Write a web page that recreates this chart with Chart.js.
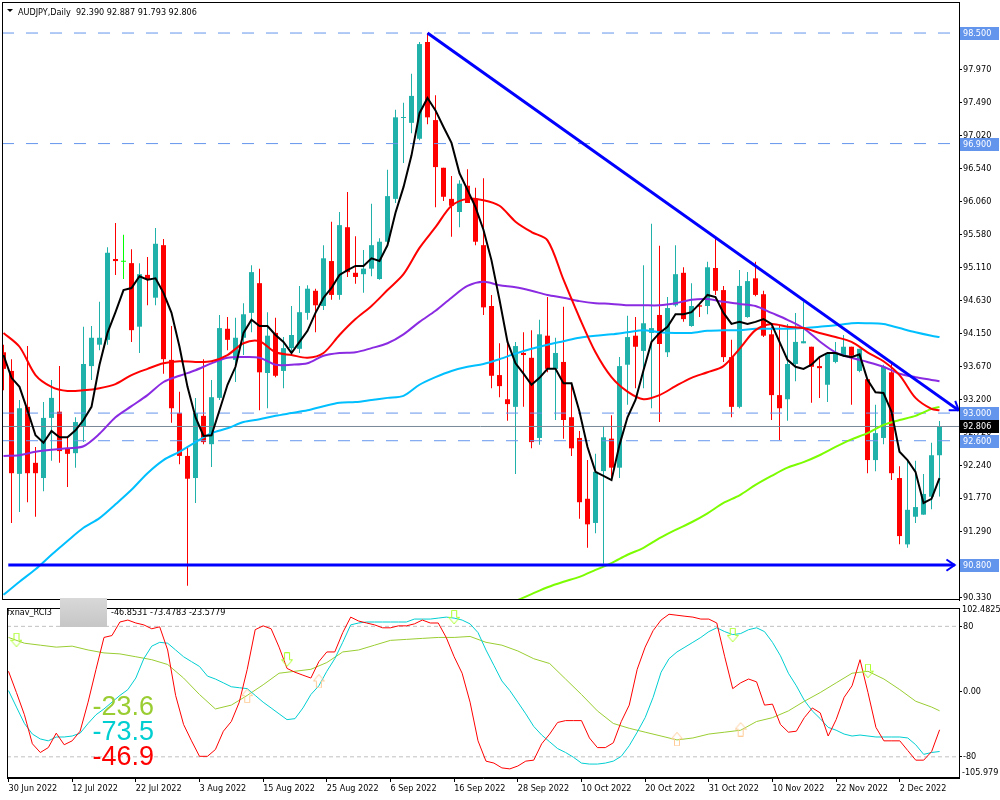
<!DOCTYPE html>
<html>
<head>
<meta charset="utf-8">
<script src="https://cdn.jsdelivr.net/npm/chart.js@4.4.0/dist/chart.umd.min.js"></script>
<style>
  body { margin: 0; background: #fff; width: 1000px; height: 800px; overflow: hidden; position: relative; }
  #main { position: absolute; left: 0; top: 0; width: 1000px; height: 601px; }
  #sub { position: absolute; left: 0; top: 601px; width: 1000px; height: 199px; }
  #mask { position: absolute; left: 60px; top: 598px; width: 47px; height: 29px; background: linear-gradient(#d8d8d8, #c6c6c6); }
</style>
</head>
<body>
<div id="main"><canvas id="priceChart"></canvas></div>
<div id="sub"><canvas id="rciChart"></canvas></div>
<div id="mask"></div>
<script>
// AUDJPY daily bars, 30 Jun - 9 Dec 2022
var dates = [
  '30 Jun','1 Jul','4 Jul','5 Jul','6 Jul','7 Jul','8 Jul','11 Jul','12 Jul','13 Jul',
  '14 Jul','15 Jul','18 Jul','19 Jul','20 Jul','21 Jul','22 Jul','25 Jul','26 Jul','27 Jul',
  '28 Jul','29 Jul','1 Aug','2 Aug','3 Aug','4 Aug','5 Aug','8 Aug','9 Aug','10 Aug',
  '11 Aug','12 Aug','15 Aug','16 Aug','17 Aug','18 Aug','19 Aug','22 Aug','23 Aug','24 Aug',
  '25 Aug','26 Aug','29 Aug','30 Aug','31 Aug','1 Sep','2 Sep','5 Sep','6 Sep','7 Sep',
  '8 Sep','9 Sep','12 Sep','13 Sep','14 Sep','15 Sep','16 Sep','19 Sep','20 Sep','21 Sep',
  '22 Sep','23 Sep','26 Sep','27 Sep','28 Sep','29 Sep','30 Sep','3 Oct','4 Oct','5 Oct',
  '6 Oct','7 Oct','10 Oct','11 Oct','12 Oct','13 Oct','14 Oct','17 Oct','18 Oct','19 Oct',
  '20 Oct','21 Oct','23 Oct','24 Oct','25 Oct','26 Oct','27 Oct','28 Oct','31 Oct','1 Nov',
  '2 Nov','3 Nov','4 Nov','7 Nov','8 Nov','9 Nov','10 Nov','11 Nov','14 Nov','15 Nov',
  '16 Nov','17 Nov','18 Nov','21 Nov','22 Nov','23 Nov','24 Nov','25 Nov','28 Nov','29 Nov',
  '30 Nov','1 Dec','2 Dec','5 Dec','6 Dec','7 Dec','8 Dec','9 Dec'
];
var xTickBars = [0, 8, 16, 24, 32, 40, 48, 56, 64, 72, 80, 88, 96, 104, 112];

var opens = [
  93.88, 93.61, 92.12, 93.09, 92.28, 92.06, 92.93, 93.02, 92.49, 92.42,
  92.81, 93.68, 93.99, 94.06, 95.23, 95.19, 95.17, 94.25, 95.00, 94.67,
  95.43, 93.77, 93.00, 92.38, 92.06, 92.96, 92.55, 93.22, 94.22, 93.77,
  94.09, 94.45, 94.88, 93.58, 94.16, 93.61, 93.94, 93.93, 94.45, 94.77,
  94.55, 95.20, 94.71, 95.69, 95.03, 95.01, 95.09, 94.94, 95.48, 96.10,
  97.27, 97.20, 96.97, 98.37, 97.24, 96.55, 96.10, 95.91, 96.29, 96.10,
  95.43, 94.55, 93.55, 93.20, 93.09, 93.87, 93.80, 92.64, 94.12, 93.64,
  93.74, 92.94, 92.64, 91.76, 91.41, 92.16, 92.63, 92.21, 93.70, 94.12,
  93.90, 94.16, 94.42, 93.88, 94.56, 95.03, 94.26, 94.56, 94.55, 95.10,
  94.78, 93.81, 93.09, 94.39, 94.95, 94.72, 94.14, 93.26, 93.20, 93.71,
  94.01, 93.96, 93.68, 93.41, 93.74, 93.83, 93.96, 93.61, 93.49, 92.32,
  92.64, 93.59, 92.06, 91.10, 91.50, 91.53, 91.79, 92.390
];
var highs = [
  93.99, 93.78, 93.19, 93.97, 92.51, 93.16, 93.48, 93.68, 92.65, 92.94,
  94.25, 94.26, 94.61, 95.40, 95.75, 95.58, 95.37, 95.17, 95.26, 95.68,
  95.52, 94.26, 93.31, 92.51, 93.22, 93.78, 93.48, 94.42, 94.39, 94.38,
  94.59, 95.14, 95.09, 94.46, 94.38, 94.10, 94.55, 94.84, 94.85, 94.80,
  95.43, 95.77, 95.91, 96.20, 95.56, 95.36, 96.03, 95.53, 96.52, 97.39,
  97.49, 97.91, 98.37, 98.50, 97.60, 96.55, 96.43, 96.37, 96.53, 96.26,
  96.40, 94.71, 94.01, 94.01, 94.03, 94.17, 94.20, 94.35, 94.68, 94.09,
  94.54, 93.44, 92.74, 92.32, 92.41, 92.80, 92.97, 93.81, 94.41, 94.39,
  95.14, 95.74, 95.42, 94.68, 95.43, 95.11, 94.88, 94.58, 95.19, 95.52,
  94.84, 94.06, 95.07, 95.04, 95.19, 94.77, 94.25, 94.27, 94.29, 94.45,
  94.61, 93.96, 93.81, 93.87, 94.03, 94.13, 93.96, 93.93, 93.49, 93.12,
  93.70, 93.72, 92.23, 92.32, 92.31, 92.12, 92.57, 92.887
];
var lows = [
  93.33, 91.41, 91.57, 91.71, 91.50, 91.87, 92.31, 92.28, 91.93, 92.21,
  92.58, 93.48, 93.91, 93.99, 95.00, 94.94, 94.03, 93.87, 94.56, 94.56,
  93.57, 92.86, 92.26, 90.50, 91.70, 92.55, 92.22, 93.19, 93.91, 93.45,
  93.84, 94.17, 93.04, 93.07, 93.52, 93.36, 93.87, 93.87, 94.35, 94.17,
  94.49, 94.64, 94.64, 94.97, 94.87, 94.74, 94.98, 94.93, 95.40, 96.04,
  96.62, 97.05, 96.95, 97.18, 95.98, 96.07, 95.55, 95.69, 96.04, 95.43,
  94.42, 93.36, 93.23, 92.89, 92.12, 93.09, 92.49, 92.54, 93.59, 92.90,
  92.63, 92.38, 91.47, 91.05, 91.26, 90.82, 92.05, 92.06, 93.12, 93.36,
  93.36, 93.07, 92.87, 93.81, 94.54, 94.32, 94.25, 94.39, 94.43, 94.71,
  93.74, 92.94, 93.07, 94.38, 94.69, 94.10, 92.90, 92.61, 92.89, 93.46,
  94.01, 93.15, 93.22, 93.16, 93.72, 93.81, 93.12, 93.59, 92.13, 92.16,
  92.55, 92.03, 91.10, 91.05, 91.41, 91.53, 91.61, 91.793
];
var closes = [
  93.64, 92.13, 93.07, 92.13, 92.13, 92.93, 93.22, 92.45, 92.41, 92.87,
  93.71, 94.09, 94.09, 95.32, 95.20, 95.19, 94.20, 95.01, 94.94, 95.45,
  93.78, 93.07, 92.38, 92.05, 93.00, 92.58, 93.23, 94.23, 94.06, 94.09,
  94.43, 95.04, 93.59, 94.12, 93.54, 93.94, 94.13, 94.46, 94.80, 94.56,
  95.24, 94.71, 95.72, 95.04, 94.97, 95.09, 95.43, 95.48, 96.14, 97.28,
  97.28, 97.59, 98.34, 97.28, 96.56, 96.13, 96.00, 96.32, 96.04, 95.48,
  94.53, 93.54, 93.39, 93.13, 93.97, 93.84, 92.58, 94.14, 93.64, 93.87,
  92.90, 92.49, 91.71, 91.39, 92.15, 92.65, 92.21, 93.68, 94.10, 93.96,
  94.30, 94.23, 94.00, 94.52, 95.01, 94.36, 94.55, 94.54, 95.11, 94.77,
  93.81, 93.09, 94.84, 94.91, 94.71, 94.12, 93.26, 93.07, 93.71, 94.03,
  94.04, 93.67, 93.65, 93.86, 93.86, 93.96, 93.83, 93.93, 92.32, 92.71,
  93.67, 92.13, 91.22, 91.60, 91.64, 91.83, 92.39, 92.806
];

// moving averages (black: every bar; others: every 2nd bar, last value = last bar)
var maFast = [
  93.84, 93.51, 93.38, 93.04, 92.68, 92.57, 92.74, 92.65, 92.65, 92.75,
  92.90, 93.09, 93.70, 94.16, 94.46, 94.78, 94.81, 94.98, 94.93, 94.95,
  94.74, 94.45, 93.96, 93.38, 92.94, 92.67, 92.68, 93.04, 93.41, 93.67,
  94.16, 94.35, 94.26, 94.26, 94.13, 94.03, 93.87, 94.03, 94.19, 94.45,
  94.67, 94.81, 95.00, 95.07, 95.13, 95.13, 95.24, 95.20, 95.43, 95.90,
  96.27, 96.73, 97.34, 97.56, 97.38, 97.14, 96.91, 96.47, 96.23, 95.98,
  95.65, 95.21, 94.64, 94.03, 93.72, 93.57, 93.41, 93.51, 93.64, 93.64,
  93.43, 93.43, 93.02, 92.51, 92.15, 92.09, 92.03, 92.54, 92.94, 93.19,
  93.62, 94.03, 94.16, 94.25, 94.43, 94.43, 94.46, 94.58, 94.71, 94.68,
  94.45, 94.29, 94.32, 94.29, 94.32, 94.36, 94.29, 94.03, 93.77, 93.67,
  93.64, 93.70, 93.81, 93.87, 93.87, 93.83, 93.81, 93.85, 93.48, 93.30,
  93.29, 93.02, 92.44, 92.32, 92.15, 91.70, 91.76, 92.06
];
var maRed = [
  94.16, 93.96, 93.55, 93.38, 93.32, 93.33, 93.36, 93.42, 93.55, 93.64,
  93.72, 93.75, 93.74, 93.75, 93.84, 94.01, 94.04, 93.88, 93.84, 93.80,
  93.87, 94.13, 94.36, 94.55, 94.78, 95.01, 95.39, 95.69, 96.00, 96.10,
  96.08, 96.00, 95.77, 95.62, 95.50, 94.93, 94.38, 93.88, 93.52, 93.31,
  93.20, 93.26, 93.39, 93.51, 93.59, 93.68, 93.93, 94.20, 94.29, 94.25,
  94.23, 94.16, 94.10, 94.03, 93.88, 93.75, 93.55, 93.22, 93.06, 93.04
];
var maPurple = [
  92.38, 92.39, 92.44, 92.47, 92.49, 92.52, 92.70, 92.94, 93.10, 93.26,
  93.45, 93.54, 93.62, 93.72, 93.80, 93.81, 93.80, 93.70, 93.70, 93.72,
  93.83, 93.87, 93.88, 93.94, 94.01, 94.14, 94.32, 94.48, 94.67, 94.84,
  94.90, 94.85, 94.82, 94.77, 94.71, 94.67, 94.62, 94.59, 94.58, 94.56,
  94.56, 94.56, 94.59, 94.64, 94.65, 94.61, 94.58, 94.55, 94.45, 94.35,
  94.23, 94.04, 93.88, 93.80, 93.74, 93.67, 93.57, 93.52, 93.48, 93.46
];
var maBlue = [
  90.37, 90.56, 90.74, 90.95, 91.15, 91.34, 91.48, 91.68, 91.89, 92.13,
  92.32, 92.44, 92.58, 92.71, 92.78, 92.87, 92.91, 92.96, 93.00, 93.04,
  93.10, 93.15, 93.16, 93.19, 93.22, 93.25, 93.41, 93.52, 93.61, 93.67,
  93.71, 93.78, 93.86, 93.93, 93.99, 94.04, 94.09, 94.12, 94.14, 94.17,
  94.20, 94.17, 94.16, 94.16, 94.19, 94.20, 94.20, 94.22, 94.22, 94.22,
  94.23, 94.25, 94.27, 94.30, 94.30, 94.29, 94.23, 94.17, 94.12, 94.10
];
var maGreenStart = 62;
var maGreen = [
  90.18, 90.28, 90.38, 90.48, 90.56, 90.63, 90.73, 90.83, 90.95, 91.05,
  91.19, 91.31, 91.42, 91.55, 91.70, 91.81, 91.96, 92.09, 92.21, 92.29,
  92.39, 92.51, 92.62, 92.71, 92.83, 92.90, 92.96, 93.06, 93.09
];

// drawn objects
var dashedLevels = [98.5, 96.9, 93.0, 92.6];
var supportLevel = 90.8;
var supportSpan = [0.6, 118.9];
var bidPrice = 92.806;
var trendline = [[53, 98.5], [119.4, 93.04]];
var priceTicks = [98.45, 97.97, 97.49, 97.02, 96.54, 96.06, 95.58, 95.11, 94.63, 94.15, 93.67, 93.2, 92.72, 92.24, 91.77, 91.29, 90.81, 90.33];

// RCI sub window
var rciShort = [
  24.9, -1.2, -28.4, -64.0, -74.7, -68.7, -51.0, -65.2, -60.4, -48.6,
  -13.0, 27.3, 66.4, 68.7, 85.3, 87.7, 84.1, 81.8, 77.0, 79.4,
  51.0, -4.7, -40.3, -60.4, -79.4, -79.4, -71.1, -48.6, -36.7, -13.0,
  27.3, 75.9, 80.6, 77.0, 54.5, 28.4, 23.7, 20.1, 16.6, 36.7,
  48.6, 48.6, 72.3, 91.3, 86.5, 84.1, 81.8, 78.2, 78.2, 80.6,
  80.6, 83.0, 87.7, 84.1, 84.1, 66.4, 42.7, 22.5, -13.0, -60.4,
  -85.3, -87.7, -93.6, -94.8, -91.3, -85.3, -84.1, -64.0, -52.1, -37.9,
  -35.6, -35.6, -35.6, -56.9, -68.7, -68.7, -62.8, -36.7, -16.6, 27.3,
  54.5, 74.7, 87.7, 94.8, 93.6, 92.4, 91.3, 88.9, 88.9, 84.1,
  42.7, 3.6, 10.7, 15.4, 11.9, -16.6, -15.4, -40.3, -49.8, -48.6,
  -32.0, -20.1, -26.1, -54.5, -34.4, -7.1, 7.1, 39.1, -1.2, -43.9,
  -60.4, -60.4, -60.4, -72.3, -84.1, -84.1, -73.5, -46.8531
];
var rciMid = [
  1.2, -19.0, -39.1, -52.1, -58.1, -60.4, -55.7, -55.7, -54.5, -51.0,
  -39.1, -28.4, -21.3, -13.0, -4.7, 2.4, 16.6, 40.3, 55.7, 60.4,
  59.3, 51.0, 42.7, 36.7, 30.8, 19.0, 15.4, 10.7, 5.9, 4.7,
  3.6, -4.7, -13.0, -20.1, -27.3, -34.4, -33.2, -20.1, -3.6, 7.1,
  24.9, 40.3, 60.4, 81.8, 84.1, 85.3, 85.3, 85.3, 85.3, 85.3,
  85.3, 88.9, 88.9, 88.9, 90.1, 91.3, 90.1, 87.7, 83.0, 72.3,
  51.0, 32.0, 13.0, 1.2, -13.0, -27.3, -42.7, -53.3, -61.6, -69.9,
  -74.7, -80.6, -87.7, -88.9, -88.9, -87.7, -85.3, -79.4, -66.4, -49.8,
  -32.0, -7.1, 23.7, 40.3, 48.6, 54.5, 60.4, 66.4, 73.5, 78.2,
  73.5, 69.9, 71.1, 75.9, 78.2, 73.5, 60.4, 43.9, 22.5, 7.1,
  -10.7, -23.7, -33.2, -43.9, -47.4, -52.1, -54.5, -53.3, -54.5, -55.7,
  -55.7, -55.7, -55.7, -56.9, -65.2, -77.0, -74.7, -73.4783
];
var rciLong = [
  66.4, 59.3, 56.9, 54.5, 55.7, 51.0, 47.4, 46.2, 42.7, 39.1,
  33.2, 16.6, -3.6, -21.3, -16.6, -4.7, 8.3, 22.5, 24.9, 27.3,
  35.6, 48.6, 51.0, 56.9, 62.8, 64.0, 65.2, 66.4, 66.4, 67.6,
  60.4, 56.9, 49.8, 40.3, 34.4, 15.4, -3.6, -23.7, -39.1, -45.0,
  -49.8, -54.5, -59.3, -56.9, -52.1, -49.8, -47.4, -36.7, -32.0, -23.7,
  -11.9, -1.2, 10.7, 22.5, 24.9, 15.4, 2.4, -11.9, -19.0, -23.5779
];
var rciLevels = [80, -80];
var rciTicks = [80, 0, -80];
var rciMax = 102.4825, rciMin = -105.979;
var sellBars = [1, 35, 56, 91, 108];
var sellVals = [63, 39, 91, 69, 25];
var buyBars = [30, 39, 84, 92];
var buyVals = [-5, 13, -58, -46];

var FONT = "'DejaVu Sans Condensed', 'Liberation Sans', sans-serif";
var BULL = '#20B2AA', BEAR = '#FF0000', DOJI = '#00FF00';
var LEVEL = '#6495ED';
var lastBar = dates.length - 1;
var xMin = -0.1875, xMax = xMin + 957 / 8;
var priceMin = 90.295, priceMax = 98.949;

function candleColor(i) {
  if (closes[i] > opens[i]) return BULL;
  if (closes[i] < opens[i]) return BEAR;
  return DOJI;
}
function everyBar(vals) {
  return vals.map(function(v, i) { return {x: i, y: v}; });
}
function everyTwo(vals, start) {
  return vals.map(function(v, k) { return {x: k === vals.length - 1 ? lastBar : start + 2 * k, y: v}; });
}
function lineSet(data, color, width, order, extra) {
  var ds = {type: 'line', data: data, borderColor: color, backgroundColor: color, borderWidth: width,
    pointRadius: 0, fill: false, order: order, tension: 0};
  for (var k in extra || {}) ds[k] = extra[k];
  return ds;
}
function hLine(v, color, width, order, dash, span) {
  var s = span || [xMin, xMax];
  return lineSet([{x: s[0], y: v}, {x: s[1], y: v}], color, width, order, {borderDash: dash || []});
}

var bars = dates.map(function(d, i) { return i; });

var mainDecor = {
  id: 'mainDecor',
  afterDraw: function(chart) {
    var ctx = chart.ctx, a = chart.chartArea, y = chart.scales.y;
    ctx.save();
    // arrow heads on the drawn lines
    chart.data.datasets.forEach(function(ds, di) {
      if (!ds.arrowHead) return;
      var pts = chart.getDatasetMeta(di).data;
      var p1 = pts[pts.length - 2], p2 = pts[pts.length - 1];
      var ang = Math.atan2(p2.y - p1.y, p2.x - p1.x);
      ctx.strokeStyle = ds.borderColor;
      ctx.lineWidth = 2;
      ctx.beginPath();
      ctx.moveTo(p2.x - 10 * Math.cos(ang - 0.6), p2.y - 10 * Math.sin(ang - 0.6));
      ctx.lineTo(p2.x, p2.y);
      ctx.lineTo(p2.x - 10 * Math.cos(ang + 0.6), p2.y - 10 * Math.sin(ang + 0.6));
      ctx.stroke();
    });
    // frame
    ctx.strokeStyle = '#000';
    ctx.lineWidth = 1;
    ctx.strokeRect(a.left + 0.5, a.top + 0.5, a.right - a.left, a.bottom - a.top - 1);
    // header
    ctx.fillStyle = '#000';
    ctx.beginPath();
    ctx.moveTo(7, 9); ctx.lineTo(13, 9); ctx.lineTo(10, 12); ctx.closePath(); ctx.fill();
    ctx.font = '9px ' + FONT;
    ctx.textBaseline = 'alphabetic';
    ctx.fillText('AUDJPY,Daily  92.390 92.887 91.793 92.806', 18, 15);
    // price tags on the axis
    ctx.textBaseline = 'middle';
    dashedLevels.concat([supportLevel]).forEach(function(v) {
      var py = Math.round(y.getPixelForValue(v));
      ctx.fillStyle = LEVEL;
      ctx.fillRect(a.right + 1, py - 6, 39, 13);
      ctx.fillStyle = '#fff';
      ctx.fillText(v.toFixed(3), a.right + 4, py + 0.5);
    });
    var by = Math.round(y.getPixelForValue(bidPrice));
    ctx.fillStyle = '#000';
    ctx.fillRect(a.right + 1, by - 6, 39, 13);
    ctx.fillStyle = '#fff';
    ctx.fillText(bidPrice.toFixed(3), a.right + 4, by + 0.5);
    ctx.restore();
  }
};

new Chart(document.getElementById('priceChart'), {
  type: 'bar',
  data: {
    datasets: [
      {type: 'bar', data: bars.map(function(i) { return {x: i, y: [lows[i], highs[i]]}; }),
        backgroundColor: function(c) { return candleColor(c.dataIndex); },
        barThickness: 1, grouped: false, inflateAmount: 0, order: 20},
      {type: 'bar', data: bars.map(function(i) { return {x: i, y: [opens[i], closes[i]]}; }),
        backgroundColor: function(c) { return candleColor(c.dataIndex); },
        barThickness: 5, minBarLength: 1, grouped: false, inflateAmount: 0, order: 19},
      hLine(dashedLevels[0], LEVEL, 1, 12, [12, 12]),
      hLine(dashedLevels[1], LEVEL, 1, 12, [12, 12]),
      hLine(dashedLevels[2], LEVEL, 1, 12, [12, 12]),
      hLine(dashedLevels[3], LEVEL, 1, 12, [12, 12]),
      hLine(bidPrice, '#778899', 1, 12),
      lineSet(everyTwo(maGreen, maGreenStart), '#7CFC00', 2, 7, {tension: 0.3}),
      lineSet(everyTwo(maBlue, 0), '#00BFFF', 2, 6, {tension: 0.3}),
      lineSet(everyTwo(maPurple, 0), '#8A2BE2', 2, 5, {tension: 0.3}),
      lineSet(everyTwo(maRed, 0), '#FF0000', 2, 4, {tension: 0.3}),
      lineSet(everyBar(maFast), '#000000', 2, 3),
      lineSet([{x: supportSpan[0], y: supportLevel}, {x: supportSpan[1], y: supportLevel}], '#0000FF', 3, 1, {arrowHead: true}),
      lineSet(trendline.map(function(p) { return {x: p[0], y: p[1]}; }), '#0000FF', 3, 0, {arrowHead: true})
    ]
  },
  options: {
    responsive: true, maintainAspectRatio: false, animation: false, events: [],
    layout: {padding: {left: 2, top: 2, right: 0, bottom: 1}},
    plugins: {legend: {display: false}, tooltip: {enabled: false}},
    scales: {
      x: {type: 'linear', min: xMin, max: xMax, display: false, offset: false},
      y: {
        position: 'right', min: priceMin, max: priceMax,
        afterFit: function(s) { s.width = 41; s.paddingTop = 0; s.paddingBottom = 0; },
        afterBuildTicks: function(s) { s.ticks = priceTicks.map(function(v) { return {value: v}; }); },
        ticks: {callback: function(v) { return v.toFixed(3); }, autoSkip: false, color: '#000', padding: 1,
          font: {family: FONT, size: 9}},
        grid: {drawOnChartArea: false, drawTicks: true, tickLength: 3, color: '#000'},
        border: {display: true, color: '#000'}
      }
    }
  },
  plugins: [mainDecor]
});

function arrowIcon(down, color) {
  var c = document.createElement('canvas');
  c.width = 12; c.height = 15;
  var g = c.getContext('2d');
  g.strokeStyle = color;
  g.lineWidth = 1;
  g.beginPath();
  if (down) {
    g.moveTo(3.5, 0.5); g.lineTo(8.5, 0.5); g.lineTo(8.5, 7.5); g.lineTo(11.5, 7.5);
    g.lineTo(6, 14); g.lineTo(0.5, 7.5); g.lineTo(3.5, 7.5);
  } else {
    g.moveTo(3.5, 14.5); g.lineTo(8.5, 14.5); g.lineTo(8.5, 7.5); g.lineTo(11.5, 7.5);
    g.lineTo(6, 1); g.lineTo(0.5, 7.5); g.lineTo(3.5, 7.5);
  }
  g.closePath();
  g.stroke();
  return c;
}

var subDecor = {
  id: 'subDecor',
  afterDraw: function(chart) {
    var ctx = chart.ctx, a = chart.chartArea;
    ctx.save();
    ctx.strokeStyle = '#000';
    ctx.lineWidth = 1;
    ctx.strokeRect(a.left + 0.5, a.top + 0.5, a.right - a.left, a.bottom - a.top - 1);
    ctx.fillStyle = '#000';
    ctx.font = '9px ' + FONT;
    ctx.textBaseline = 'alphabetic';
    ctx.fillText('fxnav_RCI3', 7, 14);
    ctx.fillText('-46.8531 -73.4783 -23.5779', 111, 14);
    ctx.fillText(rciMax.toFixed(4), a.right + 3, 11);
    ctx.fillText(rciMin.toFixed(3), a.right + 3, 174);
    ctx.font = "27px 'Liberation Sans', Arial, sans-serif";
    ctx.textAlign = 'right';
    ctx.fillStyle = '#9ACD32';
    ctx.fillText(rciLong[rciLong.length - 1].toFixed(1), 154, 114);
    ctx.fillStyle = '#00CED1';
    ctx.fillText(rciMid[rciMid.length - 1].toFixed(1), 154, 139);
    ctx.fillStyle = '#FF0000';
    ctx.fillText(rciShort[rciShort.length - 1].toFixed(1), 154, 164);
    ctx.restore();
  }
};

new Chart(document.getElementById('rciChart'), {
  type: 'line',
  data: {
    datasets: [
      hLine(rciLevels[0], '#C0C0C0', 1, 10, [4, 3]),
      hLine(rciLevels[1], '#C0C0C0', 1, 10, [4, 3]),
      lineSet(everyTwo(rciLong, 0), '#9ACD32', 1, 5),
      lineSet(everyBar(rciMid), '#00CED1', 1, 4),
      lineSet(everyBar(rciShort), '#FF0000', 1, 3),
      lineSet(sellBars.map(function(b, k) { return {x: b, y: sellVals[k]}; }), '#ADFF2F', 1, 0,
        {showLine: false, pointRadius: 6, pointStyle: arrowIcon(true, '#ADFF2F')}),
      lineSet(buyBars.map(function(b, k) { return {x: b, y: buyVals[k]}; }), '#FFCC99', 1, 0,
        {showLine: false, pointRadius: 6, pointStyle: arrowIcon(false, '#FFCC99')})
    ]
  },
  options: {
    responsive: true, maintainAspectRatio: false, animation: false, events: [],
    layout: {padding: {left: 2, top: 1, right: 0, bottom: 0}},
    plugins: {legend: {display: false}, tooltip: {enabled: false}},
    scales: {
      x: {
        type: 'linear', min: xMin, max: xMax, offset: false,
        afterFit: function(s) { s.height = 22; s.paddingLeft = 0; s.paddingRight = 0; },
        afterBuildTicks: function(s) { s.ticks = xTickBars.map(function(v) { return {value: v}; }); },
        ticks: {callback: function(v) { return dates[v] + ' 2022'; }, align: 'start', maxRotation: 0,
          autoSkip: false, color: '#000', padding: 1, font: {family: FONT, size: 9}},
        grid: {drawOnChartArea: false, drawTicks: true, tickLength: 4, color: '#000'},
        border: {display: true, color: '#000'}
      },
      y: {
        position: 'right', min: rciMin, max: rciMax,
        afterFit: function(s) { s.width = 41; s.paddingTop = 0; s.paddingBottom = 0; },
        afterBuildTicks: function(s) { s.ticks = rciTicks.map(function(v) { return {value: v}; }); },
        ticks: {callback: function(v) { return v === 0 ? '0.00' : String(v); }, autoSkip: false,
          color: '#000', padding: 1, font: {family: FONT, size: 9}},
        grid: {drawOnChartArea: false, drawTicks: true, tickLength: 3, color: '#000'},
        border: {display: true, color: '#000'}
      }
    }
  },
  plugins: [subDecor]
});
</script>
</body>
</html>
